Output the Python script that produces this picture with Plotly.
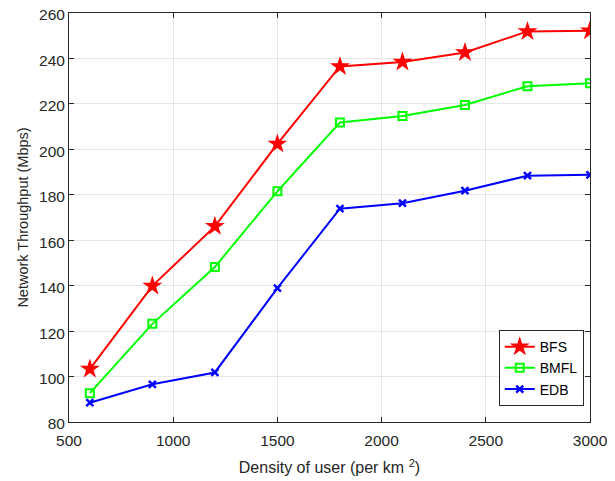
import plotly.graph_objects as go

# user density (per km^2)
density = [600, 900, 1200, 1500, 1800, 2100, 2400, 2700, 3000]

# network throughput (Mbps)
bfs = [103.3, 139.9, 166.1, 202.4, 236.5, 238.4, 242.6, 251.9, 252.2]
bmfl = [92.7, 123.2, 148.2, 181.5, 211.8, 214.7, 219.5, 227.8, 229.1]
edb = [88.5, 96.6, 101.8, 138.9, 173.9, 176.3, 181.8, 188.4, 188.8]

x_ticks = [500, 1000, 1500, 2000, 2500, 3000]
y_ticks = [80, 100, 120, 140, 160, 180, 200, 220, 240, 260]

fig = go.Figure()

fig.add_trace(go.Scatter(
    x=density, y=bfs, name='BFS', mode='lines+markers',
    line=dict(color='#ff0000', width=2),
    marker=dict(symbol='star', size=15, color='#ff0000')
))
fig.add_trace(go.Scatter(
    x=density, y=bmfl, name='BMFL', mode='lines+markers',
    line=dict(color='#00ff00', width=2),
    marker=dict(symbol='square-open', size=8, color='#00ff00', line=dict(width=2))
))
fig.add_trace(go.Scatter(
    x=density, y=edb, name='EDB', mode='lines+markers',
    line=dict(color='#0000ff', width=2),
    marker=dict(symbol='x-thin-open', size=7, color='#0000ff', line=dict(width=2.5, color='#0000ff'))
))

axis_style = dict(
    showline=True, linecolor='#262626', linewidth=1, mirror='ticks',
    ticks='inside', ticklen=5, tickcolor='#262626',
    showgrid=True, gridcolor='#e6e6e6', gridwidth=1,
    zeroline=False, automargin=False, ticklabeloverflow='allow',
    tickfont=dict(size=15.5, color='#262626')
)

# page body has an 8px default margin, so the figure is sized to fit inside it
fig.update_layout(
    width=607, height=473,
    paper_bgcolor='white', plot_bgcolor='white',
    font=dict(family='Liberation Sans, Arial, sans-serif', color='#262626'),
    margin=dict(l=61, r=25, t=5, b=59),
    xaxis=dict(range=[500, 3000], tickvals=x_ticks, ticklabelstandoff=4,
               title=dict(text='Density of user (per km <sup>2</sup>)', font=dict(size=16), standoff=14),
               **axis_style),
    yaxis=dict(range=[80, 260], tickvals=y_ticks, ticklabelshift=2,
               title=dict(text='Network Throughput (Mbps)', font=dict(size=14.5), standoff=6),
               **axis_style),
    legend=dict(
        x=0.988, y=0.039, xanchor='right', yanchor='bottom',
        bgcolor='white', bordercolor='#262626', borderwidth=1,
        font=dict(size=14, color='#000000'), tracegroupgap=0, itemwidth=30
    ),
    showlegend=True
)

fig.write_html("out.html")
